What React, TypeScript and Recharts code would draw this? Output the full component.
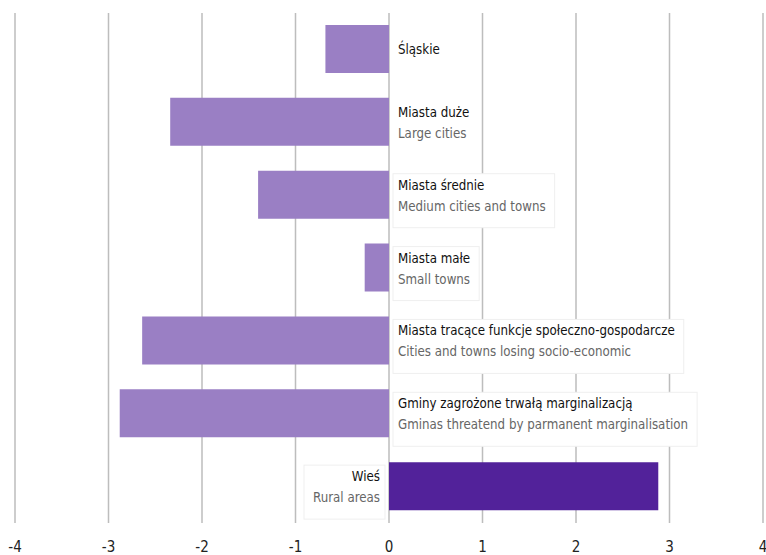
import React, { useLayoutEffect, useRef, useState } from "react";
import { BarChart, Bar, XAxis, YAxis, CartesianGrid, Cell, LabelList } from "recharts";

const categoriesPl = [
  "Śląskie",
  "Miasta duże",
  "Miasta średnie",
  "Miasta małe",
  "Miasta tracące funkcje społeczno-gospodarcze",
  "Gminy zagrożone trwałą marginalizacją",
  "Wieś",
];
const categoriesEn = [
  "",
  "Large cities",
  "Medium cities and towns",
  "Small towns",
  "Cities and towns losing socio-economic",
  "Gminas threatend by parmanent marginalisation",
  "Rural areas",
];
const values = [-0.68, -2.34, -1.4, -0.26, -2.64, -2.88, 2.88];
const xTicks = [-4, -3, -2, -1, 0, 1, 2, 3, 4];

const data = categoriesPl.map((pl, i) => ({ pl, en: categoriesEn[i], value: values[i] }));

const FONT = "'DejaVu Sans Condensed', 'Liberation Sans Narrow', sans-serif";
const LIGHT = "#9a7fc4";
const DARK = "#52229a";

function BarLabel(props: any) {
  const { x, y, width, height, index } = props;
  const d = data[index];
  const gRef = useRef<SVGGElement>(null);
  const [w, setW] = useState(0);
  useLayoutEffect(() => {
    if (gRef.current) {
      const bb = gRef.current.getBBox();
      setW(bb.width);
    }
  }, [index]);
  const zero = d.value < 0 ? Math.max(x, x + width) : Math.min(x, x + width);
  const top = Math.min(y, y + height);
  const h = Math.abs(height);
  const cy = top + h / 2;
  const right = d.value >= 0;
  const twoLines = !!d.en;
  const tx = right ? zero - 9 : zero + 9;
  const anchor = right ? "end" : "start";
  const boxW = w + 14;
  const boxX = right ? zero - 4 - boxW : zero + 4;
  const boxH = twoLines ? 54 : 40;
  const boxY = twoLines ? top + 3 : cy - 20;
  const showBorder = index >= 2;
  return (
    <g>
      {w > 0 && (
        <rect
          x={boxX}
          y={boxY}
          width={boxW}
          height={boxH}
          fill="#ffffff"
          stroke={showBorder ? "#efefef" : "none"}
          strokeWidth={1}
        />
      )}
      <g ref={gRef}>
        <text x={tx} y={twoLines ? cy - 5 : cy + 5} textAnchor={anchor} fontFamily={FONT} fontSize={13.2} fill="#111111">
          {d.pl}
        </text>
        {twoLines && (
          <text x={tx} y={cy + 16} textAnchor={anchor} fontFamily={FONT} fontSize={13.2} fill="#666666">
            {d.en}
          </text>
        )}
      </g>
    </g>
  );
}

export default function App() {
  return (
    <div style={{ position: "absolute", left: 0, top: 0, background: "#fff" }}>
      <BarChart
        width={766}
        height={555}
        data={data}
        layout="vertical"
        margin={{ top: 13, right: 3, bottom: 0, left: 15 }}
        barSize={48}
      >
        <CartesianGrid horizontal={false} vertical={true} stroke="#bdbdbd" strokeWidth={1.5} />
        <XAxis
          type="number"
          domain={[-4, 4]}
          ticks={xTicks}
          axisLine={false}
          tickLine={false}
          height={32}
          tickMargin={12}
          interval={0}
          tick={{ fontFamily: FONT, fontSize: 15, fill: "#222222" }}
        />
        <YAxis type="category" dataKey="pl" hide />
        <Bar dataKey="value" isAnimationActive={false}>
          {data.map((d, i) => (
            <Cell key={i} fill={d.value >= 0 ? DARK : LIGHT} />
          ))}
          <LabelList dataKey="value" content={(p: any) => <BarLabel {...p} />} />
        </Bar>
      </BarChart>
    </div>
  );
}
